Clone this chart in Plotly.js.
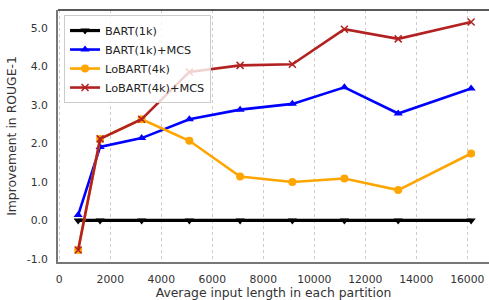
<!DOCTYPE html>
<html>
<head>
<meta charset="utf-8">
<script src="https://cdn.plot.ly/plotly-3.0.1.min.js"></script>
<style>html,body{margin:0;padding:0;background:#fff;}#chart{width:489px;height:300px;}</style>
</head>
<body>
<div id="chart"></div>
<script>
const xLen = [740, 1600, 3230, 5100, 7090, 9140, 11180, 13290, 16150];
const bart1k = [0, 0, 0, 0, 0, 0, 0, 0, 0];
const bart1kMCS = [0.14, 1.91, 2.14, 2.63, 2.88, 3.03, 3.46, 2.78, 3.43];
const lobart4k = [-0.77, 2.12, 2.63, 2.07, 1.14, 1.00, 1.09, 0.79, 1.74];
const lobart4kMCS = [-0.77, 2.12, 2.63, 3.86, 4.03, 4.06, 4.97, 4.72, 5.16];
const xTicks = [0, 2000, 4000, 6000, 8000, 10000, 12000, 14000, 16000];
const yTicks = [-1, 0, 1, 2, 3, 4, 5];
const yTickText = ["-1.0", "0.0", "1.0", "2.0", "3.0", "4.0", "5.0"];

const font = {family: "DejaVu Sans, sans-serif", size: 10.8, color: "#333"};
const titleFont = {family: "DejaVu Sans, sans-serif", size: 12.4, color: "#333"};

const traces = [
  {x: xLen, y: bart1k, name: "BART(1k)", mode: "lines+markers",
   line: {color: "#000000", width: 3.2},
   marker: {symbol: "triangle-down", size: 8, color: "#000000"}},
  {x: xLen, y: bart1kMCS, name: "BART(1k)+MCS", mode: "lines+markers",
   line: {color: "#0000ff", width: 2.6},
   marker: {symbol: "triangle-up", size: 8, color: "#0000ff"}},
  {x: xLen, y: lobart4k, name: "LoBART(4k)", mode: "lines+markers",
   line: {color: "#ffa500", width: 2.6},
   marker: {symbol: "circle", size: 8, color: "#ffa500"}},
  {x: xLen, y: lobart4kMCS, name: "LoBART(4k)+MCS", mode: "lines+markers",
   line: {color: "#b22222", width: 2.6},
   marker: {symbol: "x-thin", size: 7, color: "#b22222", line: {color: "#b22222", width: 1.5}}}
];

const layout = {
  width: 489, height: 300,
  margin: {l: 58, r: 0, t: 10, b: 38},
  paper_bgcolor: "#fff", plot_bgcolor: "#fff",
  font: font,
  showlegend: true,
  legend: {x: 0.014, y: 0.98, xanchor: "left", yanchor: "top",
    bgcolor: "rgba(255,255,255,0.8)", bordercolor: "#cccccc", borderwidth: 1,
    font: {family: "DejaVu Sans, sans-serif", size: 11.3, color: "#222"},
    tracegroupgap: 0},
  xaxis: {range: [-51, 16851], tickvals: xTicks, ticktext: xTicks.map(String),
    showgrid: true, gridcolor: "#cccccc", griddash: "dot", gridwidth: 1,
    zeroline: false, showline: true, linecolor: "#777", linewidth: 2,
    ticks: "outside", ticklen: 6, tickcolor: "rgba(0,0,0,0)",
    tickfont: font,
    title: {text: "Average input length in each partition", font: titleFont, standoff: 3}},
  yaxis: {range: [-1.08, 5.47], tickvals: yTicks, ticktext: yTickText,
    showgrid: false, zeroline: false, showline: true, linecolor: "#777", linewidth: 2,
    ticks: "outside", ticklen: 6, tickcolor: "rgba(0,0,0,0)",
    tickfont: font,
    title: {text: "Improvement in ROUGE-1", font: titleFont, standoff: 7}},
  shapes: [{type: "line", xref: "paper", yref: "paper", x0: 0, x1: 1, y0: 1, y1: 1,
    line: {color: "#222", width: 1.5}}]
};

Plotly.newPlot("chart", traces, layout, {displayModeBar: false, staticPlot: true});
</script>
</body>
</html>
